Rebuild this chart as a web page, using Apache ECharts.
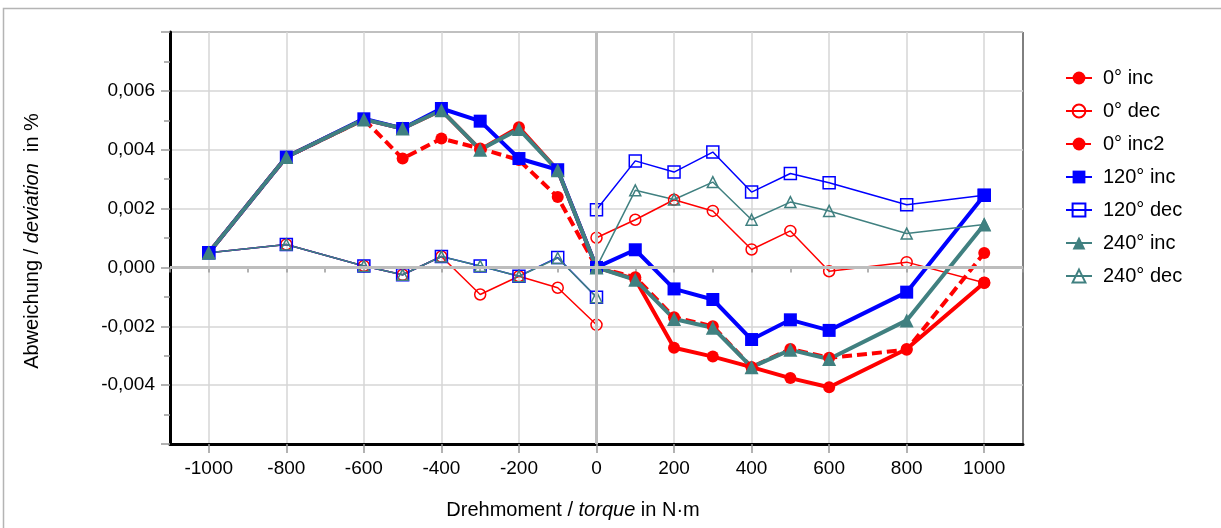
<!DOCTYPE html>
<html>
<head>
<meta charset="utf-8">
<script src="https://cdn.jsdelivr.net/npm/echarts@6/dist/echarts.min.js"></script>
<style>
html,body{margin:0;padding:0;background:#fff;}
#c{width:1221px;height:528px;}
</style>
</head>
<body>
<div id="c"></div>
<script>
// ---- data ----
const xInc = [-1000,-800,-600,-500,-400,-300,-200,-100,0,100,200,300,400,500,600,800,1000];
const inc0   = [0.0005,0.00375,0.00503,0.00472,0.00534,0.0040,0.00476,0.0033,0,-0.0004,-0.00273,-0.00303,-0.00339,-0.00376,-0.00407,-0.00277,-0.00052];
const inc0b  = [0.0005,0.00375,0.00503,0.0037,0.00438,0.00404,0.00365,0.00239,0,-0.00033,-0.00169,-0.0020,-0.00339,-0.00277,-0.00307,-0.0028,0.00049];
const inc120 = [0.0005,0.00375,0.00505,0.00472,0.0054,0.00497,0.0037,0.00332,0,0.0006,-0.00073,-0.00109,-0.00245,-0.00178,-0.00214,-0.00084,0.00245];
const inc240 = [0.0005,0.00375,0.00503,0.00472,0.00534,0.0040,0.0047,0.0033,0,-0.00042,-0.00175,-0.00205,-0.00339,-0.0028,-0.00311,-0.0018,0.00146];

const xDecNeg = [-1000,-800,-600,-500,-400,-300,-200,-100,0];
const xDecPos = [0,100,200,300,400,500,600,800,1000];
const dec0Neg   = [0.0005,0.00078,0.00005,-0.00025,0.00037,-0.00092,-0.0003,-0.00069,-0.00195];
const dec0Pos   = [0.00101,0.00162,0.0023,0.00192,0.00061,0.00124,-0.00013,0.00018,-0.00052];
const dec120Neg = [0.0005,0.00078,0.00005,-0.00025,0.00037,0.00005,-0.0003,0.00034,-0.00101];
const dec120Pos = [0.00196,0.00362,0.00324,0.00392,0.00256,0.00319,0.00288,0.00213,0.00245];
const dec240Neg = [0.0005,0.00078,0.00005,-0.00025,0.00037,0.00005,-0.0003,0.00032,-0.00101];
const dec240Pos = [0,0.00262,0.00231,0.0029,0.00162,0.00222,0.00192,0.00115,0.00146];

const seriesNames = ['0° inc','0° dec','0° inc2','120° inc','120° dec','240° inc','240° dec'];
const xTickLabels = [-1000,-800,-600,-400,-200,0,200,400,600,800,1000];

// ---- helpers ----
function pairs(xs, ys){ return xs.map((x,i)=>[x,ys[i]]); }
function decData(xn, yn, xp, yp){ return pairs(xn,yn).concat([[0,'-']]).concat(pairs(xp,yp)); }

const RED='#ff0000', BLUE='#0000ff', TEAL='#408080';
const FONT='Liberation Sans, Arial, sans-serif';

function incSeries(name, data, color, symbol, size, dashed){
  return {
    name, type:'line', data, symbol, symbolSize:size, showSymbol:true,
    lineStyle:{color, width:4, type: dashed ? [10,5] : 'solid'},
    itemStyle:{color, borderColor:color, borderWidth:0},
    emphasis:{disabled:true}, animation:false, z:3
  };
}
function decSeries(name, data, color, symbol, size){
  return {
    name, type:'line', data, symbol, symbolSize:size, showSymbol:true, connectNulls:false,
    lineStyle:{color, width:1.5},
    itemStyle:{color:'rgba(255,255,255,0)', borderColor:color, borderWidth:1.5},
    emphasis:{disabled:true}, animation:false, z:3
  };
}

const chart = echarts.init(document.getElementById('c'), null, {renderer:'canvas'});
const option = {
  backgroundColor:'#fff',
  animation:false,
  grid:{left:170, right:198, top:32, bottom:84, show:true, borderColor:'#000', borderWidth:1, backgroundColor:'transparent'},
  xAxis:[{
    type:'value', min:-1100, max:1100,
    axisLine:{show:true, onZero:false, lineStyle:{color:'#000', width:3}},
    axisTick:{show:true, customValues:xTickLabels, length:9, lineStyle:{color:'#999', width:1.5}},
    axisLabel:{customValues:xTickLabels, fontSize:19, color:'#000', margin:15, fontFamily:FONT,
      formatter:v=>String(Math.round(v))},
    splitLine:{show:true, lineStyle:{color:'#d6d6d6', width:1.5}}
  },{
    type:'value', min:-1100, max:1100, interval:100, position:'bottom',
    axisLine:{show:false}, axisLabel:{show:false}, splitLine:{show:false},
    axisTick:{show:true, length:5, lineStyle:{color:'#999', width:1.5}}
  }],
  yAxis:{
    type:'value', min:-0.006, max:0.008, interval:0.002,
    axisLine:{show:true, onZero:false, lineStyle:{color:'#000', width:3}},
    axisTick:{show:true, length:9, lineStyle:{color:'#999', width:1.5}},
    minorTick:{show:true, splitNumber:2, length:6, lineStyle:{color:'#999', width:1.5}},
    axisLabel:{showMinLabel:false, showMaxLabel:false, fontSize:19, color:'#000', margin:15, fontFamily:FONT,
      formatter:v=>{ if(Math.abs(v)<1e-12) v=0; return v.toFixed(3).replace('.',','); }},
    splitLine:{show:true, lineStyle:{color:'#d6d6d6', width:1.5}}
  },
  legend:{
    orient:'vertical', left:1060, top:63, itemWidth:26, itemHeight:16, itemGap:13,
    data:seriesNames, selectedMode:false,
    textStyle:{fontSize:20, color:'#000', fontFamily:FONT, padding:[0,0,0,6], lineHeight:20}
  },
  graphic:[
    {type:'rect', shape:{x:3.5, y:8.5, width:1400, height:700}, style:{fill:'none', stroke:'#b4b4b4', lineWidth:1.5}, silent:true, z:-1},
    {type:'text', x:573, y:510, silent:true,
      style:{text:'{a|Drehmoment / }{b|torque}{a| in N·m}', textAlign:'center', textVerticalAlign:'middle',
        rich:{a:{fontSize:20, fontFamily:FONT, fill:'#000'}, b:{fontSize:20, fontFamily:FONT, fontStyle:'italic', fill:'#000'}}}},
    {type:'text', x:32, y:241, rotation:Math.PI/2, silent:true,
      style:{text:'{a|Abweichung / }{b|deviation}{a|  in %}', textAlign:'center', textVerticalAlign:'middle',
        rich:{a:{fontSize:20, fontFamily:FONT, fill:'#000'}, b:{fontSize:20, fontFamily:FONT, fontStyle:'italic', fill:'#000'}}}}
  ],
  series:[
    {type:'line', name:'zero', data:[], silent:true, z:1,
      markLine:{silent:true, symbol:'none', label:{show:false}, animation:false,
        lineStyle:{color:'#bdbdbd', width:3, type:'solid'},
        data:[{xAxis:0},{yAxis:0}]}},
    incSeries(seriesNames[0], pairs(xInc,inc0), RED, 'circle', 12, false),
    decSeries(seriesNames[1], decData(xDecNeg,dec0Neg,xDecPos,dec0Pos), RED, 'circle', 11),
    incSeries(seriesNames[2], pairs(xInc,inc0b), RED, 'circle', 12, true),
    incSeries(seriesNames[3], pairs(xInc,inc120), BLUE, 'rect', 13, false),
    decSeries(seriesNames[4], decData(xDecNeg,dec120Neg,xDecPos,dec120Pos), BLUE, 'rect', 12),
    incSeries(seriesNames[5], pairs(xInc,inc240), TEAL, 'triangle', 14, false),
    decSeries(seriesNames[6], decData(xDecNeg,dec240Neg,xDecPos,dec240Pos), TEAL, 'triangle', 11)
  ]
};
chart.setOption(option);
</script>
</body>
</html>
